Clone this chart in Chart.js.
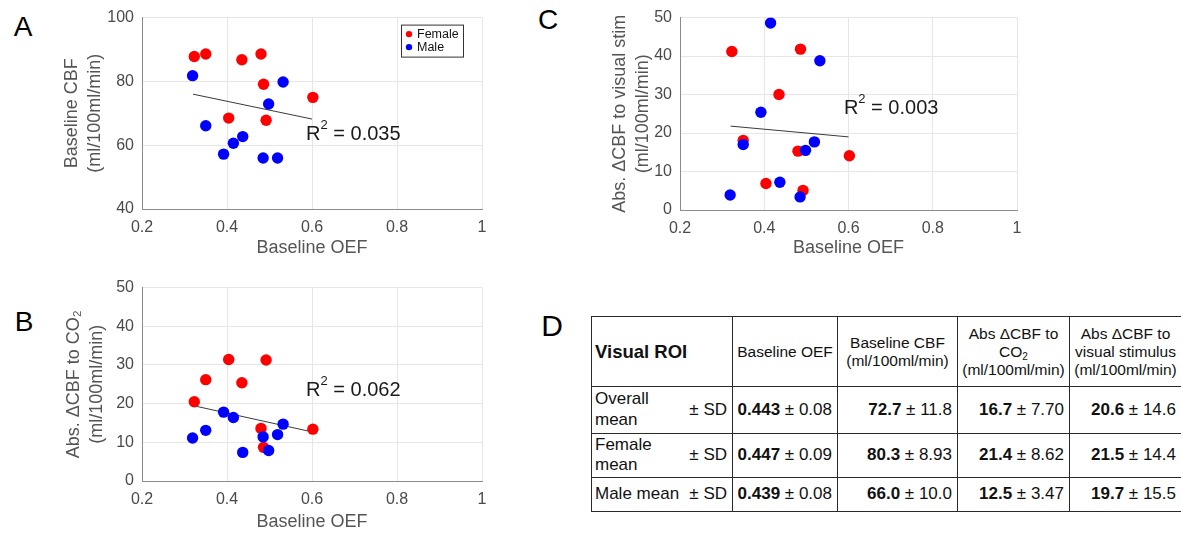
<!DOCTYPE html>
<html>
<head>
<meta charset="utf-8">
<script src="https://cdn.jsdelivr.net/npm/chart.js@4.4.0/dist/chart.umd.min.js"></script>
<style>
  body { margin: 0; background: #fff; width: 1181px; height: 533px; position: relative; overflow: hidden;
         font-family: "Liberation Sans", Arial, Helvetica, sans-serif; }
  canvas { position: absolute; }
  .panel { position: absolute; font-size: 28px; line-height: 1; color: #000; transform: translate(-50%, -50%); }
  #tbl { position: absolute; left: 591px; top: 316px; width: 590px; border-collapse: collapse; table-layout: fixed; color: #111; }
  #tbl td { border: 1.5px solid #2a2a2a; padding: 0 4px; vertical-align: middle; }
  #tbl tr.head td { text-align: center; font-size: 15.5px; line-height: 18px; height: 69px; padding: 0 2px; }
  #tbl tr.head td.roi { text-align: left; font-weight: bold; font-size: 18.5px; padding-left: 3px; }
  #tbl sub { font-size: 10px; line-height: 0; vertical-align: -3px; }
  #tbl td.num { text-align: right; font-size: 17px; padding-right: 5px; }
  #tbl td.name { font-size: 17px; padding: 0 5px 0 3px; }
  #tbl td.name div { display: flex; justify-content: space-between; align-items: center; line-height: 20.5px; }
</style>
</head>
<body>
<div class="panel" style="left:23px;top:27px">A</div>
<div class="panel" style="left:24px;top:322px">B</div>
<div class="panel" style="left:548px;top:20px">C</div>
<div class="panel" style="left:552px;top:326px;font-size:30px">D</div>

<canvas id="chartA" width="500" height="265" style="left:0;top:0"></canvas>
<canvas id="chartB" width="500" height="263" style="left:0;top:270px"></canvas>
<canvas id="chartC" width="450" height="265" style="left:580px;top:0"></canvas>
<table id="tbl"></table>

<script>
// baseline OEF per subject
const femaleOEF = [0.323, 0.350, 0.404, 0.435, 0.480, 0.486, 0.492, 0.602];
const maleOEF   = [0.319, 0.350, 0.392, 0.415, 0.437, 0.485, 0.498, 0.519, 0.532];

// A: baseline CBF
const femaleCBF = [87.8, 88.6, 68.5, 86.8, 88.6, 79.1, 67.8, 75.0];
const maleCBF   = [81.8, 66.1, 57.2, 60.6, 62.7, 56.0, 72.9, 56.0, 79.8];
// B: abs dCBF to CO2
const femaleCO2 = [20.5, 26.2, 31.4, 25.4, 13.6, 8.7, 31.3, 13.4];
const maleCO2   = [11.1, 13.1, 17.8, 16.4, 7.4, 11.4, 7.9, 12.0, 14.7];
// C: abs dCBF to visual stim
const femaleVis = [41.2, 18.1, 6.9, 30.0, 15.3, 41.8, 5.1, 14.1];
const maleVis   = [3.9, 17.0, 25.4, 48.6, 7.2, 3.4, 15.5, 17.7, 38.8];

// fitted lines (end points)
const fitOEF = [0.32, 0.60];
const fitCBF = [76.0, 68.2];
const fitCO2 = [19.5, 12.7];
const fitVis = [21.8, 19.0];
const r2Values = ['0.035', '0.062', '0.003'];

const oefTicks = [0.2, 0.4, 0.6, 0.8, 1];
const cbfTicks = [40, 60, 80, 100];
const deltaTicks = [0, 10, 20, 30, 40, 50];

// table D
const tableHead = ['Baseline OEF', 'Baseline CBF<br>(ml/100ml/min)',
  'Abs &Delta;CBF to<br>CO<sub>2</sub><br>(ml/100ml/min)',
  'Abs &Delta;CBF to<br>visual stimulus<br>(ml/100ml/min)'];
const rowNames = ['Overall<br>mean', 'Female<br>mean', 'Male mean'];
const oefMean = ['0.443', '0.447', '0.439'], oefSD = ['0.08', '0.09', '0.08'];
const cbfMean = ['72.7', '80.3', '66.0'], cbfSD = ['11.8', '8.93', '10.0'];
const co2Mean = ['16.7', '21.4', '12.5'], co2SD = ['7.70', '8.62', '3.47'];
const visMean = ['20.6', '21.5', '19.7'], visSD = ['14.6', '14.4', '15.5'];

Chart.defaults.font.family = '"Liberation Sans", Arial, Helvetica, sans-serif';
Chart.defaults.animation = false;

const FONT = '"Liberation Sans", Arial, Helvetica, sans-serif';

const extras = {
  id: 'extras',
  afterDatasetsDraw(chart, args, opts) {
    const { ctx, scales: { x, y }, chartArea } = chart;
    ctx.save();
    if (opts.r2) {
      let px = x.getPixelForValue(opts.r2.x);
      const py = y.getPixelForValue(opts.r2.y);
      ctx.fillStyle = '#1a1a1a';
      ctx.textBaseline = 'middle';
      ctx.textAlign = 'left';
      ctx.font = '20px ' + FONT;
      ctx.fillText('R', px, py);
      px += ctx.measureText('R').width;
      ctx.font = '13px ' + FONT;
      ctx.fillText('2', px, py - 9);
      px += ctx.measureText('2').width;
      ctx.font = '20px ' + FONT;
      ctx.fillText(' = ' + opts.r2.text, px, py);
    }
    if (opts.legend) {
      const items = chart.data.datasets.filter(d => d.inLegend);
      const bx = chartArea.right - 81, by = chartArea.top + 7, bw = 62, bh = 32;
      ctx.fillStyle = '#fff';
      ctx.fillRect(bx, by, bw, bh);
      ctx.strokeStyle = '#333';
      ctx.lineWidth = 1;
      ctx.strokeRect(bx + 0.5, by + 0.5, bw, bh);
      ctx.font = '12.5px ' + FONT;
      ctx.textBaseline = 'middle';
      ctx.textAlign = 'left';
      items.forEach((d, i) => {
        const cy = by + 9.5 + i * 13;
        ctx.fillStyle = d.backgroundColor;
        ctx.beginPath();
        ctx.arc(bx + 8, cy, 3.2, 0, Math.PI * 2);
        ctx.fill();
        ctx.fillStyle = '#111';
        ctx.fillText(d.label, bx + 16, cy);
      });
    }
    ctx.restore();
  }
};

function pts(xs, ys) {
  return xs.map((v, i) => ({ x: v, y: ys[i] }));
}

function makePanel(id, cfg) {
  return new Chart(document.getElementById(id), {
    type: 'scatter',
    data: {
      datasets: [
        { label: 'Female', inLegend: true, data: pts(femaleOEF, cfg.female), backgroundColor: '#ff0000',
          pointRadius: 5.7, pointBorderWidth: 0, order: 2 },
        { label: 'Male', inLegend: true, data: pts(maleOEF, cfg.male), backgroundColor: '#0000ff',
          pointRadius: 5.7, pointBorderWidth: 0, order: 1 },
        { type: 'line', label: 'fit', data: pts(fitOEF, cfg.fit), borderColor: '#3a3a3a', borderWidth: 1,
          pointRadius: 0, fill: false, order: 3 }
      ]
    },
    options: {
      responsive: false,
      layout: { autoPadding: false, padding: { top: cfg.pad.top, right: cfg.pad.right, left: 0, bottom: 0 } },
      plugins: {
        legend: { display: false },
        tooltip: { enabled: false },
        extras: { r2: cfg.r2, legend: cfg.legend }
      },
      scales: {
        x: {
          type: 'linear', min: oefTicks[0], max: oefTicks[oefTicks.length - 1],
          afterBuildTicks: s => { s.ticks = oefTicks.map(v => ({ value: v })); },
          afterFit: s => { s.height = cfg.xHeight; },
          ticks: { color: '#4a4a4a', font: { size: 16 }, padding: cfg.xTickPad, callback: v => String(v) },
          grid: { color: '#e6e6e6', drawTicks: false },
          border: { color: '#8c8c8c' },
          title: { display: true, text: 'Baseline OEF', color: '#555', font: { size: 18 },
                   padding: { top: 0, bottom: cfg.xTitlePad } }
        },
        y: {
          type: 'linear', min: cfg.yTicks[0], max: cfg.yTicks[cfg.yTicks.length - 1],
          afterBuildTicks: s => { s.ticks = cfg.yTicks.map(v => ({ value: v })); },
          afterFit: s => { s.width = cfg.yWidth; },
          ticks: { color: '#4a4a4a', font: { size: 16 }, padding: 8, callback: v => String(v) },
          grid: { color: '#e6e6e6', drawTicks: false },
          border: { color: '#8c8c8c' },
          title: { display: true, text: cfg.yTitle, color: '#555', font: { size: 18, lineHeight: 1.3 },
                   padding: { top: cfg.yTitlePad, bottom: 0 } }
        }
      }
    },
    plugins: [extras]
  });
}

makePanel('chartA', {
  female: femaleCBF, male: maleCBF, fit: fitCBF, yTicks: cbfTicks,
  yTitle: ['Baseline CBF', '(ml/100ml/min)'], yTitlePad: 60,
  pad: { top: 15, right: 18 }, yWidth: 142, xHeight: 56, xTickPad: 9, xTitlePad: 6,
  r2: { x: 0.586, y: 63.5, text: r2Values[0] }, legend: true
});

makePanel('chartB', {
  female: femaleCO2, male: maleCO2, fit: fitCO2, yTicks: deltaTicks,
  yTitle: ['Abs. \u0394CBF to CO\u2082', '(ml/100ml/min)'], yTitlePad: 62,
  pad: { top: 17, right: 18 }, yWidth: 142, xHeight: 52, xTickPad: 8.5, xTitlePad: 0.5,
  r2: { x: 0.586, y: 23.4, text: r2Values[1] }, legend: false
});

makePanel('chartC', {
  female: femaleVis, male: maleVis, fit: fitVis, yTicks: deltaTicks,
  yTitle: ['Abs. \u0394CBF to visual stim', '(ml/100ml/min)'], yTitlePad: 28,
  pad: { top: 16, right: 9 }, yWidth: 100, xHeight: 55, xTickPad: 8.5, xTitlePad: 6,
  r2: { x: 0.589, y: 26.5, text: r2Values[2] }, legend: false
});

// table D
const tbl = document.getElementById('tbl');
const widths = [141, 105, 120, 112, 112];
let html = '<colgroup>' + widths.map(w => '<col style="width:' + w + 'px">').join('') + '</colgroup>';
html += '<tr class="head"><td class="roi">Visual ROI</td>' + tableHead.map(h => '<td>' + h + '</td>').join('') + '</tr>';
const rowHeights = [46.7, 44, 34.4];
const cols = [[oefMean, oefSD], [cbfMean, cbfSD], [co2Mean, co2SD], [visMean, visSD]];
rowNames.forEach((name, i) => {
  html += '<tr style="height:' + rowHeights[i] + 'px"><td class="name"><div><span>' + name +
          '</span><span>\u00b1 SD</span></div></td>';
  cols.forEach(([m, sd]) => {
    html += '<td class="num"><b>' + m[i] + '</b> \u00b1 ' + sd[i] + '</td>';
  });
  html += '</tr>';
});
tbl.innerHTML = html;
</script>
</body>
</html>
